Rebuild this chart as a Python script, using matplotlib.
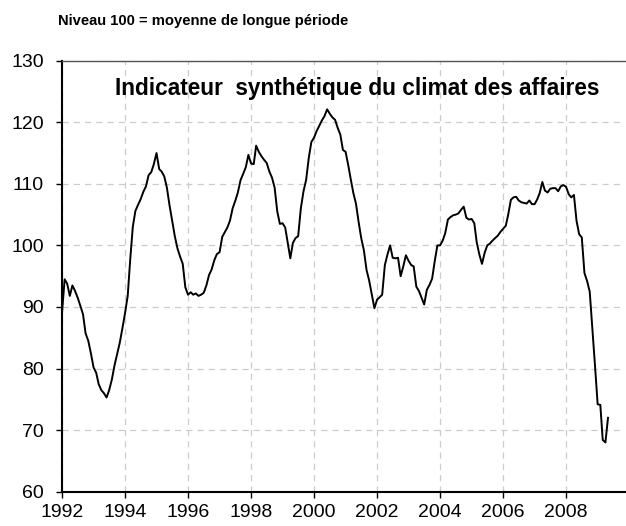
import numpy as np
import pandas as pd
import matplotlib
matplotlib.use("Agg")
import matplotlib.pyplot as plt
import matplotlib.dates as mdates

plt.rcParams['font.family'] = ['Liberation Sans', 'DejaVu Sans']

# indicateur synthetique du climat des affaires, mensuel, janv. 1992 -> mai 2009
v1992 = [89.0, 94.5, 93.8, 91.8, 93.5, 92.6, 91.5, 90.2, 88.8, 85.7, 84.5, 82.5]
v1993 = [80.2, 79.3, 77.5, 76.5, 76.0, 75.3, 76.5, 78.2, 80.5, 82.3, 84.2, 86.5]
v1994 = [89.0, 91.8, 97.5, 103.0, 105.6, 106.6, 107.5, 108.7, 109.6, 111.4, 111.9, 113.2]
v1995 = [115.0, 112.4, 112.0, 111.2, 109.4, 106.5, 104.0, 101.5, 99.5, 98.2, 97.0, 93.2]
v1996 = [92.0, 92.4, 92.0, 92.2, 91.8, 92.0, 92.3, 93.5, 95.2, 96.1, 97.6, 98.6]
v1997 = [98.9, 101.4, 102.1, 102.9, 104.0, 106.0, 107.2, 108.6, 110.6, 111.6, 112.7, 114.7]
v1998 = [113.3, 113.2, 116.2, 115.2, 114.5, 113.9, 113.4, 112.0, 111.0, 109.4, 105.5, 103.5]
v1999 = [103.6, 102.9, 100.5, 97.9, 100.4, 101.2, 101.5, 106.0, 108.8, 110.6, 114.2, 116.8]
v2000 = [117.5, 118.6, 119.4, 120.3, 121.0, 122.1, 121.4, 120.8, 120.4, 119.1, 118.0, 115.5]
v2001 = [115.2, 113.0, 110.8, 108.5, 106.8, 103.8, 101.2, 99.2, 96.0, 94.3, 92.0, 89.8]
v2002 = [91.2, 91.6, 92.0, 96.8, 98.5, 100.0, 98.0, 97.9, 98.0, 95.0, 96.6, 98.4]
v2003 = [97.5, 96.8, 96.6, 93.3, 92.6, 91.5, 90.4, 92.8, 93.6, 94.6, 97.5, 100.0]
v2004 = [100.0, 100.8, 102.0, 104.2, 104.6, 104.9, 105.0, 105.2, 105.8, 106.3, 104.5, 104.2]
v2005 = [104.3, 103.6, 100.5, 98.5, 97.0, 98.8, 100.0, 100.3, 100.8, 101.2, 101.6, 102.2]
v2006 = [102.7, 103.2, 105.0, 107.4, 107.8, 107.9, 107.3, 107.0, 106.9, 106.8, 107.3, 106.7]
v2007 = [106.7, 107.5, 108.5, 110.3, 108.9, 108.6, 109.2, 109.3, 109.3, 108.8, 109.6, 109.8]
v2008 = [109.5, 108.3, 107.8, 108.2, 104.0, 101.8, 101.3, 95.5, 94.2, 92.5, 86.5, 80.5]
v2009 = [74.2, 74.1, 68.4, 68.0, 72.0]

valeurs = (v1992 + v1993 + v1994 + v1995 + v1996 + v1997 + v1998 + v1999 + v2000
           + v2001 + v2002 + v2003 + v2004 + v2005 + v2006 + v2007 + v2008 + v2009)
dates = pd.date_range("1992-01-01", periods=len(valeurs), freq="MS")

yticks = [60, 70, 80, 90, 100, 110, 120, 130]

fig = plt.figure(figsize=(6.26, 5.26), dpi=100)
ax = fig.add_axes([0.099, 0.0652, 0.8994, 0.8194])

ax.plot(dates, valeurs, color='black', lw=1.4)

ax.set_ylim(60, 130)
ax.set_yticks(yticks)
ax.set_xlim(pd.Timestamp("1992-01-01"), pd.Timestamp("2009-11-14"))
ax.xaxis.set_major_locator(mdates.YearLocator(2))
ax.xaxis.set_major_formatter(mdates.DateFormatter('%Y'))

ax.grid(True, color='#cccccc', lw=0.9, linestyle=(0, (5, 4)))
ax.tick_params(axis='y', length=4, width=1, pad=9, labelsize=14)
ax.tick_params(axis='x', length=4, width=1, pad=4.5, labelsize=14)

ax.spines['left'].set_linewidth(1.5)
ax.spines['bottom'].set_linewidth(1.5)
ax.spines['top'].set_color('#555555')
ax.spines['top'].set_linewidth(1)
ax.spines['right'].set_visible(False)

fig.text(58 / 626, 1 - 21 / 526, "Niveau 100 = moyenne de longue période",
         fontsize=10.6, fontweight='bold', va='center', ha='left')
fig.text(357.5 / 626, 1 - 88 / 526, "Indicateur  synthétique du climat des affaires",
         fontsize=16.3, fontweight='bold', ha='center', va='center')

fig.savefig("out.png", dpi=100)
